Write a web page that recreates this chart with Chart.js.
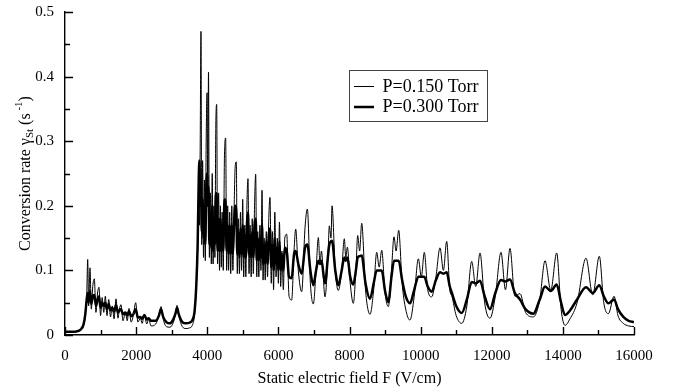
<!DOCTYPE html>
<html>
<head>
<meta charset="utf-8">
<script src="https://cdn.jsdelivr.net/npm/chart.js@4/dist/chart.umd.min.js"></script>
<style>
  html, body { margin: 0; padding: 0; background: #fff; }
  #wrap { width: 677px; height: 388px; }
</style>
</head>
<body>
<div id="wrap"><canvas id="grafik" width="677" height="388"></canvas></div>
<script>
// static field F (V/cm), shared by both curves
const fieldF = [
  // low field
  0, 200, 350, 450, 520, 570, 610, 638, 665, 703, 740, 780, 825, 870, 915, 956,
  1000, 1045, 1090, 1134, 1180, 1230, 1280, 1330, 1380, 1434, 1490, 1530, 1575, 1630, 1700, 1750,
  1800, 1860, 1920, 1988, 2050, 2120, 2170, 2231, 2300, 2350, 2420, 2550, 2640, 2700, 2760, 2850,
  2950, 3050, 3110, 3150, 3200, 3300, 3400, 3500, 3580, 3640, 3690, 3730,
  // dense part
  3760, 3780, 3800, 3824, 3845, 3870, 3895, 3920, 3945, 3970,
  3995, 4015, 4035, 4060, 4090, 4115, 4140, 4165, 4190, 4215,
  4240, 4265, 4290, 4320, 4345, 4370, 4395, 4420, 4450, 4485,
  4518, 4545, 4575, 4600, 4630, 4660, 4690, 4720, 4750, 4785,
  4817, 4845, 4875, 4905, 4935, 4965, 4997, 5025, 5055, 5085,
  5115, 5146, 5175, 5205, 5235, 5265, 5295, 5330, 5362, 5392,
  5420, 5450, 5480, 5510, 5540, 5570, 5600, 5630, 5660, 5695,
  5730, 5765, 5800, 5835, 5865, 5900, 5935, 5970, 6000, 6030,
  6065, 6100, 6140, 6180, 6234, 6300,
  // high field
  6374, 6440, 6487, 6560, 6656, 6749, 6815,
  6900, 6983, 7060, 7124, 7170, 7210, 7311, 7400, 7432, 7480, 7508, 7600, 7686, 7780, 7855, 7895,
  7940, 8020, 8107, 8180, 8230, 8285, 8343, 8450, 8577, 8680, 8765, 8835, 8906, 9000, 9092, 9180,
  9251, 9310, 9383, 9480, 9580, 9701, 9820, 9936, 10020, 10103, 10200, 10311, 10430, 10545, 10640, 10733,
  10820, 10880, 11000, 11155, 11300, 11436, 11550, 11670, 11800, 11951, 12100, 12260, 12385, 12513, 12650, 12795,
  12950, 13170, 13350, 13498, 13660, 13826, 13950, 14060, 14200, 14400, 14650, 14840, 15025, 15150, 15280, 15440,
  15550, 15700, 15850, 16000
];

// P=0.150 Torr (thin line)
const rateP150 = [
  0.004, 0.004, 0.005, 0.008, 0.015, 0.030, 0.060, 0.117, 0.045, 0.104, 0.040, 0.075, 0.087, 0.035, 0.065, 0.074,
  0.030, 0.058, 0.035, 0.060, 0.030, 0.055, 0.028, 0.045, 0.025, 0.056, 0.026, 0.040, 0.047, 0.022, 0.035, 0.022,
  0.041, 0.020, 0.030, 0.050, 0.020, 0.026, 0.018, 0.032, 0.017, 0.025, 0.014, 0.017, 0.030, 0.044, 0.025, 0.013,
  0.012, 0.020, 0.033, 0.046, 0.030, 0.013, 0.010, 0.011, 0.015, 0.030, 0.070, 0.130,

  0.22, 0.17, 0.28, 0.47, 0.14, 0.27, 0.12, 0.24, 0.115, 0.30,
  0.375, 0.20, 0.407, 0.12, 0.22, 0.11, 0.25, 0.11, 0.20, 0.12,
  0.32, 0.357, 0.11, 0.22, 0.10, 0.20, 0.105, 0.19, 0.10, 0.28,
  0.305, 0.10, 0.20, 0.10, 0.19, 0.095, 0.20, 0.10, 0.18, 0.26,
  0.268, 0.095, 0.18, 0.095, 0.19, 0.10, 0.21, 0.09, 0.17, 0.09,
  0.20, 0.242, 0.095, 0.17, 0.09, 0.18, 0.095, 0.20, 0.249, 0.09,
  0.16, 0.09, 0.17, 0.10, 0.224, 0.085, 0.15, 0.085, 0.16, 0.09,
  0.18, 0.213, 0.08, 0.16, 0.07, 0.19, 0.09, 0.15, 0.08, 0.175,
  0.075, 0.13, 0.07, 0.15, 0.156, 0.06,

  0.054, 0.130, 0.164, 0.100, 0.067, 0.166, 0.195,
  0.080, 0.048, 0.100, 0.151, 0.110, 0.130, 0.059, 0.130, 0.169, 0.150, 0.200, 0.100, 0.069, 0.100, 0.149, 0.120,
  0.136, 0.080, 0.049, 0.100, 0.154, 0.130, 0.173, 0.070, 0.032, 0.070, 0.128, 0.105, 0.131, 0.065, 0.044, 0.100,
  0.152, 0.130, 0.162, 0.080, 0.040, 0.023, 0.060, 0.118, 0.090, 0.128, 0.070, 0.059, 0.090, 0.135, 0.100, 0.145,
  0.070, 0.060, 0.030, 0.018, 0.045, 0.114, 0.075, 0.127, 0.050, 0.026, 0.060, 0.128, 0.070, 0.134, 0.060, 0.064,
  0.035, 0.028, 0.055, 0.115, 0.069, 0.127, 0.040, 0.015, 0.025, 0.050, 0.119, 0.062, 0.122, 0.050, 0.033, 0.060,
  0.030, 0.018, 0.014, 0.013
];

// P=0.300 Torr (thick line)
const rateP300 = [
  0.005, 0.005, 0.006, 0.009, 0.016, 0.032, 0.055, 0.065, 0.050, 0.068, 0.048, 0.060, 0.062, 0.045, 0.055, 0.060,
  0.042, 0.050, 0.045, 0.050, 0.040, 0.048, 0.038, 0.042, 0.036, 0.046, 0.035, 0.038, 0.040, 0.032, 0.035, 0.030,
  0.037, 0.029, 0.032, 0.040, 0.027, 0.028, 0.025, 0.031, 0.024, 0.026, 0.022, 0.022, 0.030, 0.040, 0.028, 0.020,
  0.018, 0.025, 0.034, 0.042, 0.032, 0.020, 0.018, 0.019, 0.023, 0.035, 0.075, 0.140,

  0.24, 0.27, 0.20, 0.23, 0.16, 0.21, 0.15, 0.20, 0.14, 0.22,
  0.25, 0.20, 0.23, 0.14, 0.19, 0.135, 0.20, 0.13, 0.18, 0.14,
  0.22, 0.21, 0.13, 0.18, 0.13, 0.18, 0.13, 0.17, 0.13, 0.21,
  0.20, 0.13, 0.17, 0.125, 0.17, 0.125, 0.17, 0.125, 0.165, 0.20,
  0.19, 0.125, 0.16, 0.12, 0.165, 0.125, 0.17, 0.12, 0.155, 0.12,
  0.17, 0.19, 0.125, 0.155, 0.12, 0.16, 0.12, 0.17, 0.18, 0.115,
  0.15, 0.115, 0.15, 0.12, 0.17, 0.11, 0.14, 0.11, 0.145, 0.11,
  0.155, 0.165, 0.105, 0.14, 0.10, 0.15, 0.11, 0.135, 0.10, 0.145,
  0.10, 0.125, 0.10, 0.135, 0.13, 0.09,

  0.088, 0.125, 0.130, 0.110, 0.095, 0.135, 0.140,
  0.100, 0.077, 0.100, 0.115, 0.110, 0.115, 0.080, 0.125, 0.140, 0.145, 0.146, 0.100, 0.077, 0.100, 0.120, 0.115,
  0.120, 0.090, 0.078, 0.100, 0.120, 0.122, 0.123, 0.080, 0.056, 0.080, 0.100, 0.100, 0.100, 0.068, 0.051, 0.090,
  0.115, 0.115, 0.115, 0.085, 0.060, 0.049, 0.070, 0.090, 0.090, 0.090, 0.075, 0.067, 0.085, 0.097, 0.095, 0.097,
  0.075, 0.065, 0.045, 0.034, 0.055, 0.082, 0.080, 0.084, 0.060, 0.040, 0.065, 0.085, 0.083, 0.086, 0.065, 0.055,
  0.040, 0.033, 0.055, 0.075, 0.068, 0.078, 0.050, 0.031, 0.038, 0.055, 0.074, 0.065, 0.077, 0.060, 0.049, 0.055,
  0.040, 0.028, 0.022, 0.020
];

const seriesLabels = ["P=0.150 Torr", "P=0.300 Torr"];
const xTitle = "Static electric field F (V/cm)";
const xStep = 2000;
const yStep = 0.1;

const SERIF = "'Liberation Serif', 'DejaVu Serif', serif";

// inward tick marks, major at each step and minor halfway
function drawInwardTicks(chart) {
  const ctx = chart.ctx;
  const xs = chart.scales.x;
  const ys = chart.scales.y;
  const bot = Math.round(ys.getPixelForValue(ys.min));
  const lft = Math.round(xs.getPixelForValue(xs.min));
  ctx.save();
  ctx.strokeStyle = "#000";
  ctx.lineWidth = 1.4;
  ctx.beginPath();
  for (let k = 0; xs.min + k * xStep / 2 <= xs.max + 1e-6; k++) {
    const px = Math.round(xs.getPixelForValue(xs.min + k * xStep / 2)) + 0.5;
    const len = k % 2 === 0 ? 8 : 5;
    ctx.moveTo(px, bot);
    ctx.lineTo(px, bot - len);
  }
  for (let k = 0; ys.min + k * yStep / 2 <= ys.max + 1e-9; k++) {
    const py = Math.round(ys.getPixelForValue(ys.min + k * yStep / 2)) + 0.5;
    const len = k % 2 === 0 ? 8 : 5;
    ctx.moveTo(lft, py);
    ctx.lineTo(lft + len, py);
  }
  ctx.stroke();
  ctx.restore();
}

// legend in a box and y title with sub/superscript
const extrasPlugin = {
  id: "extras",
  afterDraw(chart) {
    drawInwardTicks(chart);

    const ctx = chart.ctx;
    const area = chart.chartArea;
    ctx.save();
    ctx.fillStyle = "#000";
    ctx.translate(26, (area.top + area.bottom) / 2);
    ctx.rotate(-Math.PI / 2);
    const parts = [
      { t: "Conversion rate \u03b3", size: 16, dy: 0 },
      { t: "St", size: 11, dy: 4 },
      { t: " (s", size: 16, dy: 0 },
      { t: " -1", size: 11, dy: -7 },
      { t: ")", size: 16, dy: 0 }
    ];
    let total = 0;
    parts.forEach(p => { ctx.font = p.size + "px " + SERIF; p.w = ctx.measureText(p.t).width; total += p.w; });
    let cx = -total / 2;
    ctx.textBaseline = "middle";
    parts.forEach(p => {
      ctx.font = p.size + "px " + SERIF;
      ctx.fillText(p.t, cx, p.dy);
      cx += p.w;
    });
    ctx.restore();

    // legend box
    ctx.save();
    const bx = 349.5, by = 70.5, bw = 138, bh = 51;
    ctx.strokeStyle = "#444";
    ctx.lineWidth = 1;
    ctx.strokeRect(bx, by, bw, bh);
    ctx.font = "18px " + SERIF;
    ctx.fillStyle = "#000";
    ctx.textBaseline = "middle";
    chart.data.datasets.forEach((ds, i) => {
      const ly = 86.5 + i * 20.5;
      ctx.strokeStyle = "#000";
      ctx.lineWidth = ds.borderWidth;
      ctx.beginPath(); ctx.moveTo(354, ly); ctx.lineTo(374, ly); ctx.stroke();
      ctx.fillText(ds.label, 382.5, ly + 0.5);
    });
    ctx.restore();
  }
};

new Chart(document.getElementById("grafik"), {
  type: "line",
  data: {
    datasets: [
      {
        label: seriesLabels[0],
        data: fieldF.map((f, i) => ({ x: f, y: rateP150[i] })),
        borderColor: "#000",
        borderWidth: 1,
        pointRadius: 0,
        cubicInterpolationMode: "monotone",
        fill: false,
        order: 1
      },
      {
        label: seriesLabels[1],
        data: fieldF.map((f, i) => ({ x: f, y: rateP300[i] })),
        borderColor: "#000",
        borderWidth: 2.5,
        pointRadius: 0,
        cubicInterpolationMode: "monotone",
        fill: false,
        order: 0
      }
    ]
  },
  options: {
    responsive: false,
    animation: false,
    layout: { padding: { top: 10, right: 43, left: 0, bottom: 0 } },
    plugins: {
      legend: { display: false },
      tooltip: { enabled: false }
    },
    scales: {
      x: {
        type: "linear",
        min: 0,
        max: 16000,
        grid: { display: false },
        border: { display: true, color: "#000", width: 1.4 },
        ticks: {
          stepSize: xStep,
          padding: 4,
          color: "#000",
          font: { family: SERIF, size: 15 },
          maxRotation: 0,
          callback: v => String(v)
        },
        title: {
          display: true,
          text: xTitle,
          color: "#000",
          font: { family: SERIF, size: 16 },
          padding: { top: 8, bottom: 0 }
        },
        afterFit: s => { s.height = 53; }
      },
      y: {
        min: 0,
        max: 0.5,
        grid: { display: false },
        border: { display: true, color: "#000", width: 1.4 },
        ticks: {
          stepSize: yStep,
          padding: 3,
          color: "#000",
          font: { family: SERIF, size: 15 }
        },
        afterFit: s => { s.width = 65; }
      }
    }
  },
  plugins: [extrasPlugin]
});
</script>
</body>
</html>
